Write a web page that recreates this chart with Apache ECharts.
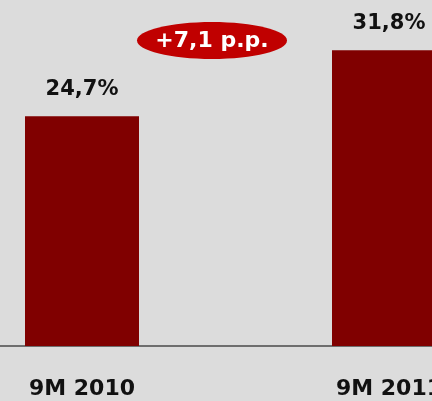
<!DOCTYPE html>
<html>
<head>
<meta charset="utf-8">
<script src="https://cdn.jsdelivr.net/npm/echarts@6/dist/echarts.min.js"></script>
<style>
  html, body { margin: 0; padding: 0; background: #dcdcdc; }
  #chart { width: 432px; height: 401px; }
</style>
</head>
<body>
<div id="chart"></div>
<script>
// dane
var categories = ['9M 2010', '9M 2011'];
var values = [24.7, 31.8];
var deltaText = '+7,1 p.p.';

var chart = echarts.init(document.getElementById('chart'));

var option = {
    backgroundColor: '#dcdcdc',
    animation: false,
    grid: {
        left: -71.5,
        width: 614,
        top: 0,
        bottom: 55,
        outerBoundsMode: 'none'
    },
    xAxis: {
        type: 'category',
        data: categories,
        axisLine: { lineStyle: { color: '#6e6e6e', width: 2 } },
        axisTick: { show: false },
        axisLabel: {
            margin: 32,
            color: '#111',
            fontFamily: 'DejaVu Sans',
            fontWeight: 'bold',
            fontSize: 22
        }
    },
    yAxis: {
        type: 'value',
        min: 0,
        max: 37.2,
        show: false,
        splitLine: { show: false }
    },
    series: [{
        type: 'bar',
        data: values,
        barWidth: 114,
        itemStyle: { color: '#800000' },
        label: {
            show: true,
            position: 'top',
            distance: 16,
            color: '#111',
            fontFamily: 'DejaVu Sans',
            fontWeight: 'bold',
            fontSize: 21,
            formatter: function (p) {
                return p.value.toFixed(1).replace('.', ',') + '%';
            }
        }
    }],
    graphic: [{
        type: 'ellipse',
        shape: { cx: 212, cy: 40.5, rx: 75, ry: 18.5 },
        style: { fill: '#c00000' }
    }, {
        type: 'text',
        x: 212,
        y: 41,
        style: {
            text: deltaText,
            fill: '#fff',
            font: 'bold 22px "DejaVu Sans"',
            align: 'center',
            verticalAlign: 'middle'
        }
    }]
};

chart.setOption(option);
</script>
</body>
</html>
